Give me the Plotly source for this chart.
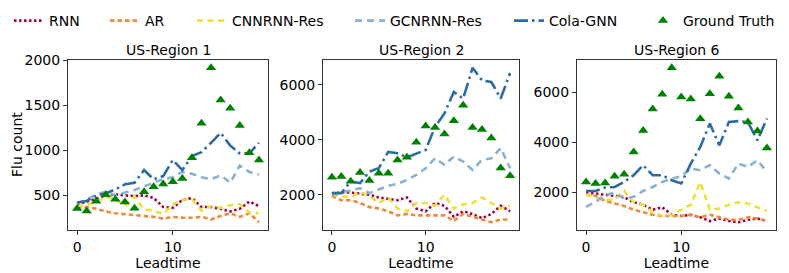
import plotly.graph_objects as go

leadtime = list(range(20))
regions = ["US-Region 1", "US-Region 2", "US-Region 6"]

# Region 1
r1_rnn = [400, 430, 460, 500, 510, 500, 490, 500, 470, 370, 360, 450, 470, 370, 370, 350, 320, 350, 430, 380]
r1_ar = [360, 370, 350, 320, 300, 290, 280, 270, 260, 240, 260, 250, 250, 260, 230, 270, 300, 260, 300, 200]
r1_cnn = [380, 390, 430, 480, 460, 380, 490, 340, 330, 290, 400, 450, 460, 330, 380, 360, 390, 400, 310, 300]
r1_gcn = [410, 450, 510, 540, 500, 530, 560, 600, 640, 680, 700, 760, 740, 700, 680, 720, 640, 830, 760, 730]
r1_cola = [420, 437, 493, 522, 566, 622, 640, 781, 677, 714, 892, 781, 936, 980, 1084, 1195, 1054, 966, 966, 1084]
r1_gt = [352, 326, 433, 507, 456, 426, 356, 540, 596, 625, 651, 688, 917, 1302, 1919, 1560, 1468, 1276, 973, 892]

# Region 2
r2_rnn = [2050, 2080, 2080, 2050, 2000, 1900, 1850, 1800, 1900, 1500, 1400, 1700, 1600, 1200, 1400, 1300, 1150, 1300, 1600, 1400]
r2_ar = [1950, 1800, 1800, 1700, 1550, 1500, 1400, 1250, 1300, 1250, 1250, 1250, 1250, 1050, 1300, 1200, 1100, 1000, 1100, 1100]
r2_cnn = [2000, 1950, 1900, 2100, 1950, 1700, 1900, 1500, 1400, 1700, 1700, 1600, 2000, 1500, 1650, 1700, 1900, 1700, 1500, 1600]
r2_gcn = [2000, 2080, 2180, 2240, 2060, 2180, 2325, 2400, 2540, 2720, 2960, 3325, 3085, 3385, 3205, 2900, 3265, 3325, 3690, 2960]
r2_cola = [2060, 2060, 2482, 2422, 2843, 2964, 3554, 3506, 3361, 3506, 3626, 4470, 4952, 5735, 5494, 6614, 6157, 6096, 5494, 6421]
r2_gt = [2639, 2663, 2494, 2807, 2518, 2783, 2783, 3265, 3361, 3904, 4494, 4446, 4205, 4687, 5253, 4446, 4373, 4060, 2976, 2687]

# Region 6
r6_rnn = [2000, 1950, 1900, 1850, 1800, 1600, 1500, 1300, 1400, 1100, 1050, 1100, 1000, 850, 950, 850, 800, 900, 950, 850]
r6_ar = [1900, 1850, 1650, 1550, 1450, 1300, 1200, 1100, 1050, 1050, 1050, 1100, 1000, 1100, 1000, 900, 900, 1000, 950, 850]
r6_cnn = [1900, 1800, 1700, 1700, 2050, 1600, 1500, 1200, 1050, 1100, 1300, 1500, 2400, 1300, 1350, 1500, 1600, 1550, 1400, 1250]
r6_gcn = [1415, 1615, 1880, 1975, 1750, 1815, 2050, 2210, 2410, 2545, 2640, 2945, 2880, 3080, 2745, 2545, 3140, 3010, 3275, 2810]
r6_cola = [2050, 2050, 2190, 2210, 2410, 2680, 3080, 2680, 2680, 2480, 2350, 3140, 3810, 4740, 3870, 4800, 4840, 4800, 4070, 4940]
r6_gt = [2412, 2346, 2372, 2638, 2718, 3608, 4459, 5323, 5907, 6970, 5801, 5721, 4937, 5934, 6625, 5827, 5362, 4804, 4445, 3768]

y_ticks = [[500, 1000, 1500, 2000], [2000, 4000, 6000], [2000, 4000, 6000]]
x_ticks = [0, 10]

series_names = ["RNN", "AR", "CNNRNN-Res", "GCNRNN-Res", "Cola-GNN", "Ground Truth"]
colors = ["#a5003f", "#ee8a3a", "#ebe13c", "#8ab1cd", "#2d6ca2"]
dashes = ["2.5px,2.5px", "4.5px,3px", "6px,4.5px", "7px,5px", "14px,4px,2.5px,4px"]
gt_color = "#008000"

data = [
    [r1_rnn, r1_ar, r1_cnn, r1_gcn, r1_cola, r1_gt],
    [r2_rnn, r2_ar, r2_cnn, r2_gcn, r2_cola, r2_gt],
    [r6_rnn, r6_ar, r6_cnn, r6_gcn, r6_cola, r6_gt],
]

W, H = 789, 273
ML, MR, MT, MB = 68, 13, 60, 43
PW = W - ML - MR
boxes = [(68, 268), (323, 519), (577, 776)]
xdom = [[(a - ML) / PW, (b - ML) / PW] for a, b in boxes]

legend_names = ["legend", "legend2", "legend3", "legend4", "legend5", "legend6"]
legend_x = [9, 105, 192, 350, 509, 643]

fig = go.Figure()
font = "DejaVu Sans, Arial, sans-serif"
FS = 14

for p, sets in enumerate(data):
    ax = "" if p == 0 else str(p + 1)
    for k in range(5):
        fig.add_trace(go.Scatter(
            x=leadtime, y=sets[k], mode="lines", name=series_names[k],
            line=dict(color=colors[k], width=2.6, dash=dashes[k]),
            xaxis="x" + ax, yaxis="y" + ax, showlegend=(p == 0),
            legend=legend_names[k],
        ))
    fig.add_trace(go.Scatter(
        x=leadtime, y=sets[5], mode="markers", name=series_names[5],
        marker=dict(symbol="triangle-up", size=9, color=gt_color),
        xaxis="x" + ax, yaxis="y" + ax, showlegend=(p == 0),
        legend=legend_names[5],
    ))

layout = dict(
    width=W, height=H,
    margin=dict(l=ML, r=MR, t=MT, b=MB, autoexpand=False),
    paper_bgcolor="white", plot_bgcolor="white",
    font=dict(family=font, size=FS, color="black"),
    showlegend=True,
)
for i, ln in enumerate(legend_names):
    layout[ln] = dict(
        orientation="h", x=legend_x[i] / W, xref="container", xanchor="left",
        y=1 - 21 / H, yref="container", yanchor="middle",
        font=dict(size=FS, family=font, color="black"), bgcolor="rgba(0,0,0,0)",
    )

for p, sets in enumerate(data):
    vals = [v for s in sets for v in s]
    lo, hi = min(vals), max(vals)
    pad = (hi - lo) * 0.05
    ax = "" if p == 0 else str(p + 1)
    layout["xaxis" + ax] = dict(
        domain=xdom[p], range=[-0.95, 19.95], tickvals=x_ticks,
        showline=True, linecolor="#333", linewidth=1, mirror=True,
        ticks="outside", ticklen=4, tickcolor="#333", showgrid=False, zeroline=False,
        title=dict(text="Leadtime", standoff=1, font=dict(size=FS, family=font, color="black")),
        anchor="y" + ax, automargin=False,
    )
    layout["yaxis" + ax] = dict(
        domain=[0, 1], range=[lo - pad, hi + pad], tickvals=y_ticks[p],
        showline=True, linecolor="#333", linewidth=1, mirror=True,
        ticks="outside", ticklen=4, tickcolor="#333", showgrid=False, zeroline=False,
        anchor="x" + ax, automargin=False,
    )

fig.update_layout(**layout)

fig.add_annotation(
    text="Flu count", x=(17 - ML) / PW, y=0.5, xref="paper", yref="paper",
    xanchor="center", yanchor="middle", textangle=-90, showarrow=False,
    font=dict(size=FS, family=font, color="black"),
)

for p in range(3):
    fig.add_annotation(
        text=regions[p], x=(xdom[p][0] + xdom[p][1]) / 2, y=1,
        xref="paper", yref="paper", xanchor="center", yanchor="bottom",
        yshift=0, showarrow=False, font=dict(size=FS, family=font, color="black"),
    )

fig.write_html("out.html", config={"displayModeBar": False},
               post_script="document.body.style.margin='0px';")
